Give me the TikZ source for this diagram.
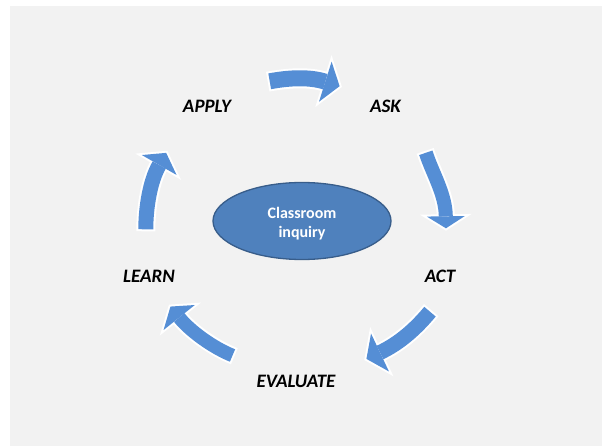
\documentclass[tikz,border=0pt]{standalone}
\usepackage{fontspec}
\setmainfont{Carlito}
\usetikzlibrary{calc,shapes.geometric}
\definecolor{bggray}{HTML}{F2F2F2}
\definecolor{arrowblue}{HTML}{558ED5}
\definecolor{ellfill}{HTML}{4F81BD}
\definecolor{elldraw}{HTML}{385D8A}
\tikzset{
  lbl/.style={anchor=base, font=\fontsize{19}{21}\selectfont\bfseries\itshape, text=black, inner sep=0pt},
  hub/.style={ellipse, fill=ellfill, draw=elldraw, line width=1.3pt, minimum width=178pt, minimum height=77pt,
    inner sep=0pt},
  hubtext/.style={inner sep=0pt, text=white, align=center, font=\fontsize{16}{19}\selectfont\bfseries},
}
% #1 start, #2 control1, #3 control2, #4 head base centre, #5 body width, #6 head half width, #7 head length
\newcommand{\blockarrow}[7]{%
  \coordinate (bs) at #1;
  \coordinate (bca) at #2;
  \coordinate (bcb) at #3;
  \coordinate (be) at #4;
  \coordinate (bt) at ($(be)!-#7pt!(bcb)$);
  \coordinate (bwa) at ($(be)!#6pt!90:(bcb)$);
  \coordinate (bwb) at ($(be)!#6pt!-90:(bcb)$);
  \coordinate (bsx) at ($(bs)!-2pt!(bca)$);
  \draw[white, line width=#5pt+4pt] (bsx) .. controls (bca) and (bcb) .. (be);
  \draw[white, fill=white, line width=4pt, line join=miter] (bwa) -- (bt) -- (bwb) -- cycle;
  \draw[arrowblue, line width=#5pt] (bs) .. controls (bca) and (bcb) .. (be);
  \fill[arrowblue] (bwa) -- (bt) -- (bwb) -- cycle;
}
\begin{document}
\begin{tikzpicture}[x=1pt, y=-1pt]
\useasboundingbox (0,0) rectangle (602,446);
\fill[bggray] (10,6) rectangle (602,446);

\node[hub] (hub) at (302,221) {};
\node[hubtext] (hubtxt) at (302,223.5) {Classroom\\inquiry};

\node[lbl] (apply) at (207,113) {APPLY};
\node[lbl] (ask) at (385.5,113) {ASK};
\node[lbl] (act) at (440,283) {ACT};
\node[lbl] (learn) at (149,283) {LEARN};
\node[lbl] (evaluate) at (296,387) {EVALUATE};

% APPLY -> ASK
\blockarrow{(269.7,81.3)}{(287.3,78.1)}{(308.1,76.3)}{(325.3,81.7)}{16}{21}{15}
% ASK -> ACT
\blockarrow{(425.8,152.8)}{(432.6,173.7)}{(445.5,194)}{(445.8,216.3)}{14}{19}{12}
% ACT -> EVALUATE
\blockarrow{(430,311.7)}{(415.9,328.6)}{(399.7,343.2)}{(380,352.5)}{15}{21}{15}
% EVALUATE -> LEARN
\blockarrow{(232.5,355.5)}{(213.9,348.1)}{(190.4,331.5)}{(179.2,317.5)}{13.5}{20}{14}
% LEARN -> APPLY
\blockarrow{(145.8,229.3)}{(145.8,207)}{(150.2,180.7)}{(159.2,165)}{15}{20}{14}
\end{tikzpicture}
\end{document}
